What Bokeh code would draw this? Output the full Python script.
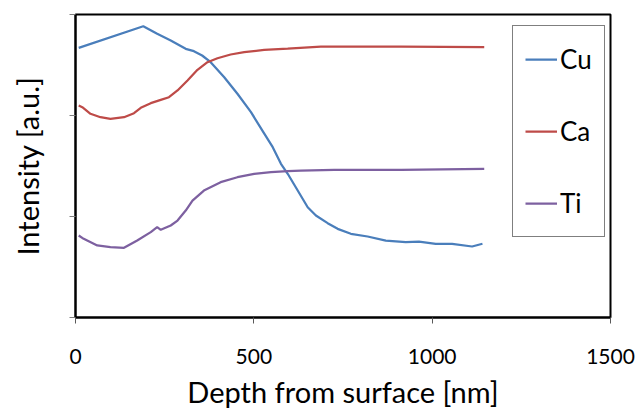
from bokeh.plotting import figure
from bokeh.models import FixedTicker, Range1d, Legend
from bokeh.embed import file_html
from bokeh.resources import INLINE

# ---- data ----
cu_depth = [9, 190, 229, 267, 309, 332, 355, 379, 417, 454, 492, 524, 553, 576, 595,
            623, 651, 674, 707, 735, 772, 819, 870, 926, 963, 1010, 1056, 1112, 1141]
cu_int = [2.67, 2.884, 2.809, 2.743, 2.660, 2.637, 2.594, 2.528, 2.379, 2.215, 2.033,
          1.851, 1.686, 1.522, 1.423, 1.257, 1.092, 1.010, 0.934, 0.878, 0.829, 0.802,
          0.762, 0.746, 0.752, 0.730, 0.730, 0.703, 0.730]

ca_depth = [9, 19, 42, 70, 98, 136, 164, 183, 211, 239, 262, 286, 314, 342, 370, 398,
            435, 473, 529, 595, 688, 913, 1146]
ca_int = [2.099, 2.082, 2.017, 1.983, 1.967, 1.983, 2.023, 2.076, 2.122, 2.155, 2.181,
          2.248, 2.347, 2.452, 2.528, 2.567, 2.604, 2.627, 2.650, 2.663, 2.683, 2.683, 2.676]

ti_depth = [9, 23, 61, 98, 136, 173, 211, 229, 239, 267, 286, 309, 328, 360, 407, 454,
            501, 548, 595, 632, 725, 913, 1146]
ti_int = [0.812, 0.779, 0.713, 0.696, 0.690, 0.762, 0.845, 0.894, 0.868, 0.911, 0.960,
          1.059, 1.158, 1.257, 1.340, 1.389, 1.423, 1.439, 1.449, 1.455, 1.462, 1.462, 1.472]

series_names = ["Cu", "Ca", "Ti"]
series_colors = ["#4A7EBB", "#BE4B48", "#7D60A0"]
x_ticks = [0, 500, 1000, 1500]
y_ticks = [0, 1, 2, 3]
x_title = "Depth from surface [nm]"
y_title = "Intensity [a.u.]"

FONT = "Lato"

p = figure(width=638, height=415, output_backend="svg", toolbar_location=None,
           x_range=Range1d(0, 1500), y_range=Range1d(0, 3),
           min_border_left=75, min_border_right=28, min_border_top=14, min_border_bottom=98)
p.background_fill_color = "white"
p.border_fill_color = "white"
p.outline_line_color = "black"
p.outline_line_width = 2
p.xgrid.visible = False
p.ygrid.visible = False

renderers = []
for xs, ys, name, col in zip([cu_depth, ca_depth, ti_depth], [cu_int, ca_int, ti_int],
                             series_names, series_colors):
    r = p.line(xs, ys, line_color=col, line_width=2.25)
    renderers.append((name, [r]))

# axes
p.xaxis.ticker = FixedTicker(ticks=x_ticks)
p.xaxis.minor_tick_line_color = None
p.xaxis.major_tick_in = 0
p.xaxis.major_tick_out = 6
p.xaxis.major_tick_line_color = "#595959"
p.xaxis.axis_line_color = "black"
p.xaxis.axis_line_width = 2
p.xaxis.major_label_text_font = FONT
p.xaxis.major_label_text_font_size = "21px"
p.xaxis.major_label_text_color = "black"
p.xaxis.major_label_standoff = 25
p.xaxis.axis_label = x_title
p.xaxis.axis_label_text_font = FONT
p.xaxis.axis_label_text_font_size = "29px"
p.xaxis.axis_label_text_font_style = "normal"
p.xaxis.axis_label_text_color = "black"
p.xaxis.axis_label_standoff = 7

p.yaxis.ticker = FixedTicker(ticks=y_ticks)
p.yaxis.minor_tick_line_color = None
p.yaxis.major_tick_in = 0
p.yaxis.major_tick_out = 6
p.yaxis.major_tick_line_color = "#7f7f7f"
p.yaxis.axis_line_color = "black"
p.yaxis.axis_line_width = 2
p.yaxis.major_label_overrides = {t: "" for t in y_ticks}
p.yaxis.major_label_standoff = 0
p.yaxis.axis_label = y_title
p.yaxis.axis_label_text_font = FONT
p.yaxis.axis_label_text_font_size = "29px"
p.yaxis.axis_label_text_font_style = "normal"
p.yaxis.axis_label_text_color = "black"
p.yaxis.axis_label_standoff = 25

legend = Legend(items=renderers, location=(437, 80))
legend.label_text_font = FONT
legend.label_text_font_size = "26px"
legend.label_text_color = "black"
legend.glyph_width = 32
legend.glyph_height = 42
legend.label_height = 42
legend.label_width = 29
legend.label_standoff = 3
legend.spacing = 30
legend.padding = 12
legend.margin = 0
legend.border_line_color = "black"
legend.border_line_width = 1
legend.background_fill_color = "white"
legend.background_fill_alpha = 1
p.add_layout(legend)

open("out.html", "w").write(file_html(p, INLINE))
